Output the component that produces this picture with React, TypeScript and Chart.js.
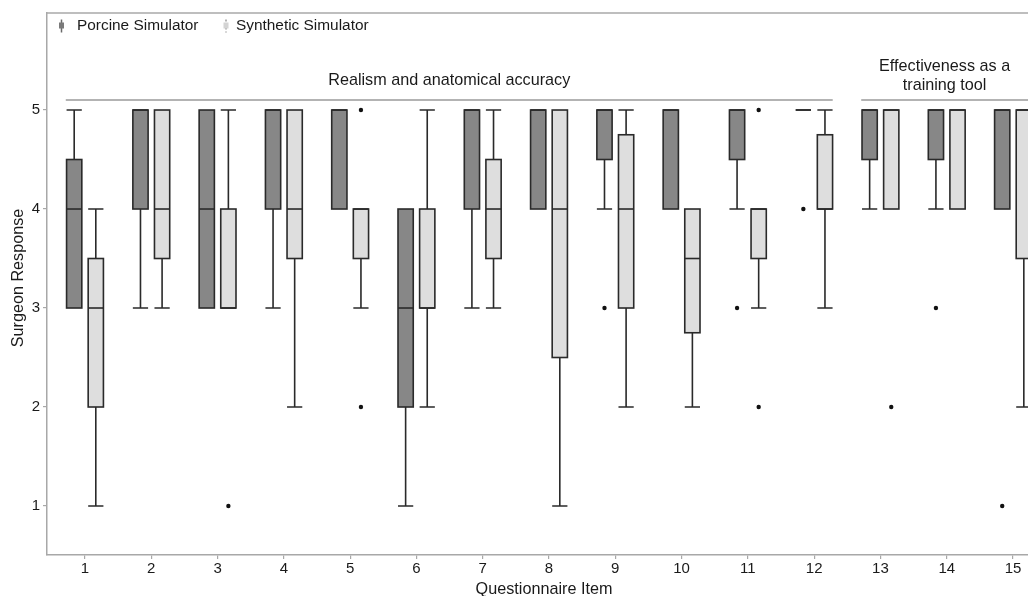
import React, { useEffect, useRef } from "react";
import { Chart, registerables } from "chart.js";

Chart.register(...registerables);

// ---------- data ----------
const items = [1, 2, 3, 4, 5, 6, 7, 8, 9, 10, 11, 12, 13, 14, 15];
const seriesNames = ["Porcine Simulator", "Synthetic Simulator"];

const porcineMin = [3, 3, 3, 3, 4, 1, 3, 4, 4, 4, 4, 5, 4, 4, 4];
const porcineQ1 = [3, 4, 3, 4, 4, 2, 4, 4, 4.5, 4, 4.5, 5, 4.5, 4.5, 4];
const porcineMedian = [4, 5, 4, 5, 5, 3, 5, 5, 5, 5, 5, 5, 5, 5, 5];
const porcineQ3 = [4.5, 5, 5, 5, 5, 4, 5, 5, 5, 5, 5, 5, 5, 5, 5];
const porcineMax = [5, 5, 5, 5, 5, 4, 5, 5, 5, 5, 5, 5, 5, 5, 5];
const porcineOutlierItems = [9, 11, 12, 14, 15];
const porcineOutlierValues = [3, 3, 4, 3, 1];

const syntheticMin = [1, 3, 3, 2, 3, 2, 3, 1, 2, 2, 3, 3, 4, 4, 2];
const syntheticQ1 = [2, 3.5, 3, 3.5, 3.5, 3, 3.5, 2.5, 3, 2.75, 3.5, 4, 4, 4, 3.5];
const syntheticMedian = [3, 4, 3, 4, 4, 3, 4, 4, 4, 3.5, 4, 4, 5, 5, 5];
const syntheticQ3 = [3.5, 5, 4, 5, 4, 4, 4.5, 5, 4.75, 4, 4, 4.75, 5, 5, 5];
const syntheticMax = [4, 5, 5, 5, 4, 5, 5, 5, 5, 4, 4, 5, 5, 5, 5];
const syntheticOutlierItems = [3, 5, 5, 11, 11, 13];
const syntheticOutlierValues = [1, 5, 2, 5, 2, 2];

const yTicks = [1, 2, 3, 4, 5];
const groupLabels = [["Realism and anatomical accuracy"], ["Effectiveness as a", "training tool"]];
const groupFirstItem = [1, 13];
const groupLastItem = [12, 15];

const xTitle = "Questionnaire Item";
const yTitle = "Surgeon Response";

// ---------- style ----------
const FONT = "'Liberation Sans', Arial, Helvetica, sans-serif";
const TEXT = "#1a1a1a";
const AXIS = "#a8a8a8";
const STROKE = "#2a2a2a";
const PORCINE_FILL = "#878787";
const SYNTH_FILL = "#dedede";
const OFF = 0.163;
const HALF = 0.115;

const seriesDefs = [
  { off: -OFF, fill: PORCINE_FILL, min: porcineMin, q1: porcineQ1, med: porcineMedian, q3: porcineQ3, max: porcineMax },
  { off: OFF, fill: SYNTH_FILL, min: syntheticMin, q1: syntheticQ1, med: syntheticMedian, q3: syntheticQ3, max: syntheticMax },
];

const boxPlugin = {
  id: "boxplots",
  beforeDatasetsDraw(chart: any) {
    const { ctx, chartArea, scales } = chart;
    const x = scales.x;
    const y = scales.y;
    ctx.save();
    // top frame line
    ctx.strokeStyle = AXIS;
    ctx.lineWidth = 1.5;
    ctx.beginPath();
    ctx.moveTo(chartArea.left, chartArea.top);
    ctx.lineTo(chartArea.right + 2, chartArea.top);
    ctx.stroke();

    // group annotations
    const lineY = y.getPixelForValue(5.1);
    ctx.strokeStyle = "#9a9a9a";
    ctx.lineWidth = 1.5;
    ctx.fillStyle = TEXT;
    ctx.font = `16.2px ${FONT}`;
    ctx.textAlign = "center";
    ctx.textBaseline = "middle";
    groupLabels.forEach((lines, g) => {
      const a = groupFirstItem[g] - 0.29;
      const b = Math.min(groupLastItem[g] + 0.28, x.max);
      const px0 = x.getPixelForValue(a);
      const px1 = x.getPixelForValue(b);
      ctx.beginPath();
      ctx.moveTo(px0, lineY);
      ctx.lineTo(px1 + (b >= x.max ? 2 : 0), lineY);
      ctx.stroke();
      const cx = (px0 + px1) / 2;
      const lh = 18.3;
      const n = lines.length;
      const gap = n > 1 ? 15 : 19.3;
      lines.forEach((t, k) => {
        ctx.fillText(t, cx, lineY - gap - (n - 1 - k) * lh);
      });
    });

    // boxes
    ctx.lineWidth = 1.6;
    ctx.strokeStyle = STROKE;
    seriesDefs.forEach((s) => {
      items.forEach((it, i) => {
        const cx = x.getPixelForValue(it + s.off);
        const hw = x.getPixelForValue(it + s.off + HALF) - cx;
        const yMin = y.getPixelForValue(s.min[i]);
        const yQ1 = y.getPixelForValue(s.q1[i]);
        const yMed = y.getPixelForValue(s.med[i]);
        const yQ3 = y.getPixelForValue(s.q3[i]);
        const yMax = y.getPixelForValue(s.max[i]);
        // whiskers
        ctx.beginPath();
        if (s.max[i] > s.q3[i]) {
          ctx.moveTo(cx, yQ3);
          ctx.lineTo(cx, yMax);
          ctx.moveTo(cx - hw, yMax);
          ctx.lineTo(cx + hw, yMax);
        }
        if (s.min[i] < s.q1[i]) {
          ctx.moveTo(cx, yQ1);
          ctx.lineTo(cx, yMin);
          ctx.moveTo(cx - hw, yMin);
          ctx.lineTo(cx + hw, yMin);
        }
        ctx.stroke();
        // box
        ctx.fillStyle = s.fill;
        ctx.fillRect(cx - hw, yQ3, hw * 2, yQ1 - yQ3);
        ctx.strokeRect(cx - hw, yQ3, hw * 2, yQ1 - yQ3);
        // median
        ctx.beginPath();
        ctx.moveTo(cx - hw, yMed);
        ctx.lineTo(cx + hw, yMed);
        ctx.stroke();
      });
    });
    ctx.restore();
  },
  afterDraw(chart: any) {
    const { ctx, chartArea } = chart;
    ctx.save();
    // legend
    const entries = [
      { ix: 61.5, tx: 77, fill: "#7a7a7a", dashed: false },
      { ix: 226, tx: 236, fill: "#d4d4d4", dashed: true },
    ];
    const cy = 26;
    ctx.font = `15.4px ${FONT}`;
    ctx.textBaseline = "middle";
    ctx.textAlign = "left";
    entries.forEach((e, k) => {
      ctx.strokeStyle = e.dashed ? "#9a9a9a" : "#6a6a6a";
      ctx.lineWidth = 1.5;
      if (e.dashed) ctx.setLineDash([2, 2]);
      ctx.beginPath();
      ctx.moveTo(e.ix, cy - 6.5);
      ctx.lineTo(e.ix, cy + 6.5);
      ctx.stroke();
      ctx.setLineDash([]);
      ctx.fillStyle = e.fill;
      ctx.fillRect(e.ix - 2.5, cy - 3.5, 5, 6);
      ctx.fillStyle = TEXT;
      ctx.fillText(seriesNames[k], e.tx, cy);
    });

    // axis titles
    ctx.font = `16.2px ${FONT}`;
    ctx.fillStyle = TEXT;
    ctx.textAlign = "center";
    ctx.textBaseline = "alphabetic";
    ctx.fillText(xTitle, (chartArea.left + chartArea.right) / 2 + 6.5, chart.height - 2);
    ctx.translate(23, (chartArea.top + chartArea.bottom) / 2 - 6);
    ctx.rotate(-Math.PI / 2);
    ctx.fillText(yTitle, 0, 0);
    ctx.restore();
  },
};

export default function App() {
  const ref = useRef<HTMLCanvasElement | null>(null);
  useEffect(() => {
    if (!ref.current) return;
    const chart = new Chart(ref.current, {
      type: "scatter",
      data: {
        datasets: [
          {
            label: seriesNames[0],
            data: porcineOutlierItems.map((it, k) => ({ x: it - OFF, y: porcineOutlierValues[k] })),
            pointRadius: 2.2,
            pointBackgroundColor: "#111",
            pointBorderWidth: 0,
            clip: false,
          },
          {
            label: seriesNames[1],
            data: syntheticOutlierItems.map((it, k) => ({ x: it + OFF, y: syntheticOutlierValues[k] })),
            pointRadius: 2.2,
            pointBackgroundColor: "#111",
            pointBorderWidth: 0,
            clip: false,
          },
        ],
      },
      options: {
        responsive: false,
        animation: false,
        layout: { autoPadding: false, padding: { top: 13, left: 0, right: 0, bottom: 0 } },
        plugins: { legend: { display: false }, tooltip: { enabled: false } },
        scales: {
          x: {
            type: "linear",
            min: 0.4268,
            max: 15.226,
            afterBuildTicks: (s: any) => {
              s.ticks = items.map((v) => ({ value: v }));
            },
            afterFit: (s: any) => {
              s.height = 41;
              s.paddingLeft = 0;
              s.paddingRight = 0;
            },
            grid: { display: true, drawOnChartArea: false, drawTicks: true, tickLength: 4, color: AXIS, lineWidth: 1.2 },
            border: { display: true, color: AXIS, width: 1.5 },
            ticks: { color: TEXT, font: { family: FONT, size: 15 }, padding: 1, maxRotation: 0, autoSkip: false },
            title: { display: false },
          },
          y: {
            type: "linear",
            min: 0.505,
            max: 5.98,
            afterBuildTicks: (s: any) => {
              s.ticks = yTicks.map((v) => ({ value: v }));
            },
            afterFit: (s: any) => {
              s.width = 47;
              s.paddingTop = 0;
              s.paddingBottom = 0;
            },
            grid: { display: true, drawOnChartArea: false, drawTicks: true, tickLength: 4, color: AXIS, lineWidth: 1.2 },
            border: { display: true, color: AXIS, width: 1.5 },
            ticks: { color: TEXT, font: { family: FONT, size: 15 }, padding: 3 },
            title: { display: false },
          },
        },
      },
      plugins: [boxPlugin],
    } as any);
    return () => chart.destroy();
  }, []);
  return (
    <div style={{ position: "absolute", left: 0, top: 0, width: 1028, height: 596, background: "#fff" }}>
      <canvas ref={ref} width={1028} height={596} style={{ display: "block", width: 1028, height: 596 }} />
    </div>
  );
}
